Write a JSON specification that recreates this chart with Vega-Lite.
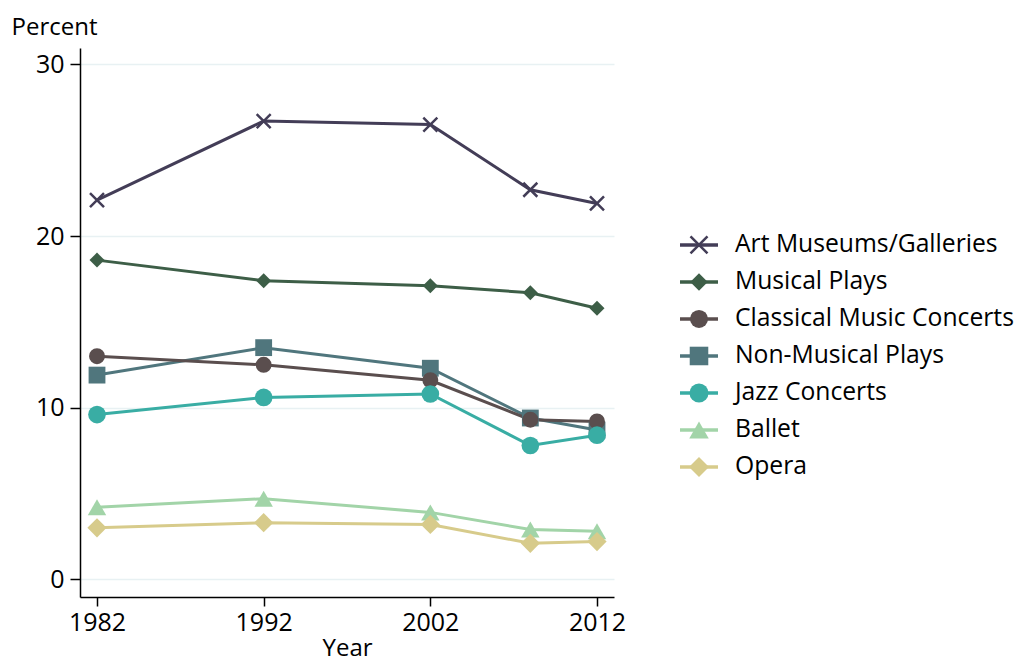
{
  "$schema": "https://vega.github.io/schema/vega-lite/v6.json",
  "padding": {"left": 11, "top": 15, "right": 0, "bottom": 0},
  "background": "white",
  "bounds": "flush",
  "spacing": 66,
  "config": {
    "view": {"stroke": null},
    "font": "Open Sans",
    "axis": {
      "domainColor": "black",
      "domainWidth": 1.5,
      "tickColor": "black",
      "tickWidth": 1.5,
      "labelFont": "Open Sans",
      "labelFontSize": 25,
      "labelColor": "black",
      "titleFont": "Open Sans",
      "titleFontSize": 24,
      "titleFontWeight": "normal",
      "titleColor": "black"
    }
  },
  "resolve": {"scale": {"size": "independent"}},
  "datasets": {
    "main": [
      {"series": "Art Museums/Galleries", "year": 1982, "pct": 22.1},
      {"series": "Art Museums/Galleries", "year": 1992, "pct": 26.7},
      {"series": "Art Museums/Galleries", "year": 2002, "pct": 26.5},
      {"series": "Art Museums/Galleries", "year": 2008, "pct": 22.7},
      {"series": "Art Museums/Galleries", "year": 2012, "pct": 21.9},
      {"series": "Musical Plays", "year": 1982, "pct": 18.6},
      {"series": "Musical Plays", "year": 1992, "pct": 17.4},
      {"series": "Musical Plays", "year": 2002, "pct": 17.1},
      {"series": "Musical Plays", "year": 2008, "pct": 16.7},
      {"series": "Musical Plays", "year": 2012, "pct": 15.8},
      {"series": "Non-Musical Plays", "year": 1982, "pct": 11.9},
      {"series": "Non-Musical Plays", "year": 1992, "pct": 13.5},
      {"series": "Non-Musical Plays", "year": 2002, "pct": 12.3},
      {"series": "Non-Musical Plays", "year": 2008, "pct": 9.4},
      {"series": "Non-Musical Plays", "year": 2012, "pct": 8.7},
      {"series": "Classical Music Concerts", "year": 1982, "pct": 13.0},
      {"series": "Classical Music Concerts", "year": 1992, "pct": 12.5},
      {"series": "Classical Music Concerts", "year": 2002, "pct": 11.6},
      {"series": "Classical Music Concerts", "year": 2008, "pct": 9.3},
      {"series": "Classical Music Concerts", "year": 2012, "pct": 9.2},
      {"series": "Jazz Concerts", "year": 1982, "pct": 9.6},
      {"series": "Jazz Concerts", "year": 1992, "pct": 10.6},
      {"series": "Jazz Concerts", "year": 2002, "pct": 10.8},
      {"series": "Jazz Concerts", "year": 2008, "pct": 7.8},
      {"series": "Jazz Concerts", "year": 2012, "pct": 8.4},
      {"series": "Ballet", "year": 1982, "pct": 4.2},
      {"series": "Ballet", "year": 1992, "pct": 4.7},
      {"series": "Ballet", "year": 2002, "pct": 3.9},
      {"series": "Ballet", "year": 2008, "pct": 2.9},
      {"series": "Ballet", "year": 2012, "pct": 2.8},
      {"series": "Opera", "year": 1982, "pct": 3.0},
      {"series": "Opera", "year": 1992, "pct": 3.3},
      {"series": "Opera", "year": 2002, "pct": 3.2},
      {"series": "Opera", "year": 2008, "pct": 2.1},
      {"series": "Opera", "year": 2012, "pct": 2.2}
    ],
    "legend": [
      {"series": "Art Museums/Galleries", "order": 1},
      {"series": "Musical Plays", "order": 2},
      {"series": "Classical Music Concerts", "order": 3},
      {"series": "Non-Musical Plays", "order": 4},
      {"series": "Jazz Concerts", "order": 5},
      {"series": "Ballet", "order": 6},
      {"series": "Opera", "order": 7}
    ]
  },
  "hconcat": [
    {
      "width": 534,
      "height": 549,
      "data": {"name": "main"},
      "encoding": {
        "x": {
          "field": "year",
          "type": "quantitative",
          "scale": {"domain": [1980.98, 2013.02], "nice": false, "zero": false},
          "axis": {
            "values": [1982, 1992, 2002, 2012],
            "format": "d",
            "tickSize": 9,
            "labelPadding": 4,
            "labelFlush": false,
            "grid": false,
            "title": "Year",
            "titlePadding": 1
          }
        },
        "y": {
          "field": "pct",
          "type": "quantitative",
          "scale": {"domain": [-1.03, 30.96], "nice": false, "zero": false},
          "axis": {
            "values": [0, 10, 20, 30],
            "tickSize": 10,
            "labelPadding": 6,
            "grid": true,
            "gridColor": "#e8f1f3",
            "gridWidth": 1.5,
            "title": "Percent",
            "titleAngle": 0,
            "titleAlign": "left",
            "titleBaseline": "alphabetic",
            "titleX": -69,
            "titleY": -14
          }
        },
        "color": {
          "field": "series",
          "type": "nominal",
          "scale": {
            "domain": ["Art Museums/Galleries", "Musical Plays", "Classical Music Concerts", "Non-Musical Plays", "Jazz Concerts", "Ballet", "Opera"],
            "range": ["#433d57", "#3d5e47", "#5a4e4e", "#50767d", "#39ada4", "#a2d4a8", "#d7cb8b"]
          },
          "legend": null
        }
      },
      "layer": [
        {"mark": {"type": "line", "strokeWidth": 3}},
        {
          "transform": [{"filter": "datum.series !== 'Art Museums/Galleries'"}],
          "mark": {"type": "point", "filled": true, "opacity": 1},
          "encoding": {
            "shape": {
              "field": "series",
              "type": "nominal",
              "scale": {
                "domain": ["Art Museums/Galleries", "Musical Plays", "Classical Music Concerts", "Non-Musical Plays", "Jazz Concerts", "Ballet", "Opera"],
                "range": ["M-1,-1L1,1M-1,1L1,-1", "diamond", "circle", "square", "circle", "triangle-up", "diamond"]
              },
              "legend": null
            },
            "size": {
              "field": "series",
              "type": "ordinal",
              "scale": {
                "domain": ["Art Museums/Galleries", "Musical Plays", "Classical Music Concerts", "Non-Musical Plays", "Jazz Concerts", "Ballet", "Opera"],
                "range": [196, 370, 135, 165, 135, 230, 370]
              },
              "legend": null
            }
          }
        },
        {
          "transform": [{"filter": "datum.series === 'Art Museums/Galleries'"}],
          "mark": {"type": "point", "shape": "M-1,-1L1,1M-1,1L1,-1", "filled": false, "strokeWidth": 2.5, "size": 196, "opacity": 1}
        }
      ]
    },
    {
      "width": 300,
      "height": 549,
      "data": {"name": "legend"},
      "encoding": {
        "y": {
          "field": "order",
          "type": "quantitative",
          "scale": {"domain": [-4.324, 10.514], "reverse": true, "nice": false, "zero": false},
          "axis": null
        },
        "color": {
          "field": "series",
          "type": "nominal",
          "scale": {
            "domain": ["Art Museums/Galleries", "Musical Plays", "Classical Music Concerts", "Non-Musical Plays", "Jazz Concerts", "Ballet", "Opera"],
            "range": ["#433d57", "#3d5e47", "#5a4e4e", "#50767d", "#39ada4", "#a2d4a8", "#d7cb8b"]
          },
          "legend": null
        }
      },
      "layer": [
        {
          "mark": {"type": "rule", "strokeWidth": 3.5},
          "encoding": {
            "x": {"datum": 0, "type": "quantitative", "scale": {"domain": [0, 7.895], "nice": false, "zero": false}, "axis": null},
            "x2": {"datum": 1}
          }
        },
        {
          "transform": [{"filter": "datum.series !== 'Art Museums/Galleries'"}],
          "mark": {"type": "point", "filled": true, "opacity": 1},
          "encoding": {
            "x": {"datum": 0.5, "type": "quantitative"},
            "shape": {
              "field": "series",
              "type": "nominal",
              "scale": {
                "domain": ["Art Museums/Galleries", "Musical Plays", "Classical Music Concerts", "Non-Musical Plays", "Jazz Concerts", "Ballet", "Opera"],
                "range": ["M-1,-1L1,1M-1,1L1,-1", "diamond", "circle", "square", "circle", "triangle-up", "diamond"]
              },
              "legend": null
            },
            "size": {
              "field": "series",
              "type": "ordinal",
              "scale": {
                "domain": ["Art Museums/Galleries", "Musical Plays", "Classical Music Concerts", "Non-Musical Plays", "Jazz Concerts", "Ballet", "Opera"],
                "range": [289, 400, 160, 225, 160, 270, 400]
              },
              "legend": null
            }
          }
        },
        {
          "transform": [{"filter": "datum.series === 'Art Museums/Galleries'"}],
          "mark": {"type": "point", "shape": "M-1,-1L1,1M-1,1L1,-1", "filled": false, "strokeWidth": 2.5, "size": 289, "opacity": 1},
          "encoding": {"x": {"datum": 0.5, "type": "quantitative"}}
        },
        {
          "mark": {"type": "text", "align": "left", "baseline": "middle", "fontSize": 24.7, "font": "Open Sans"},
          "encoding": {
            "x": {"datum": 1.447, "type": "quantitative"},
            "text": {"field": "series"},
            "color": {"value": "black"}
          }
        }
      ]
    }
  ]
}
